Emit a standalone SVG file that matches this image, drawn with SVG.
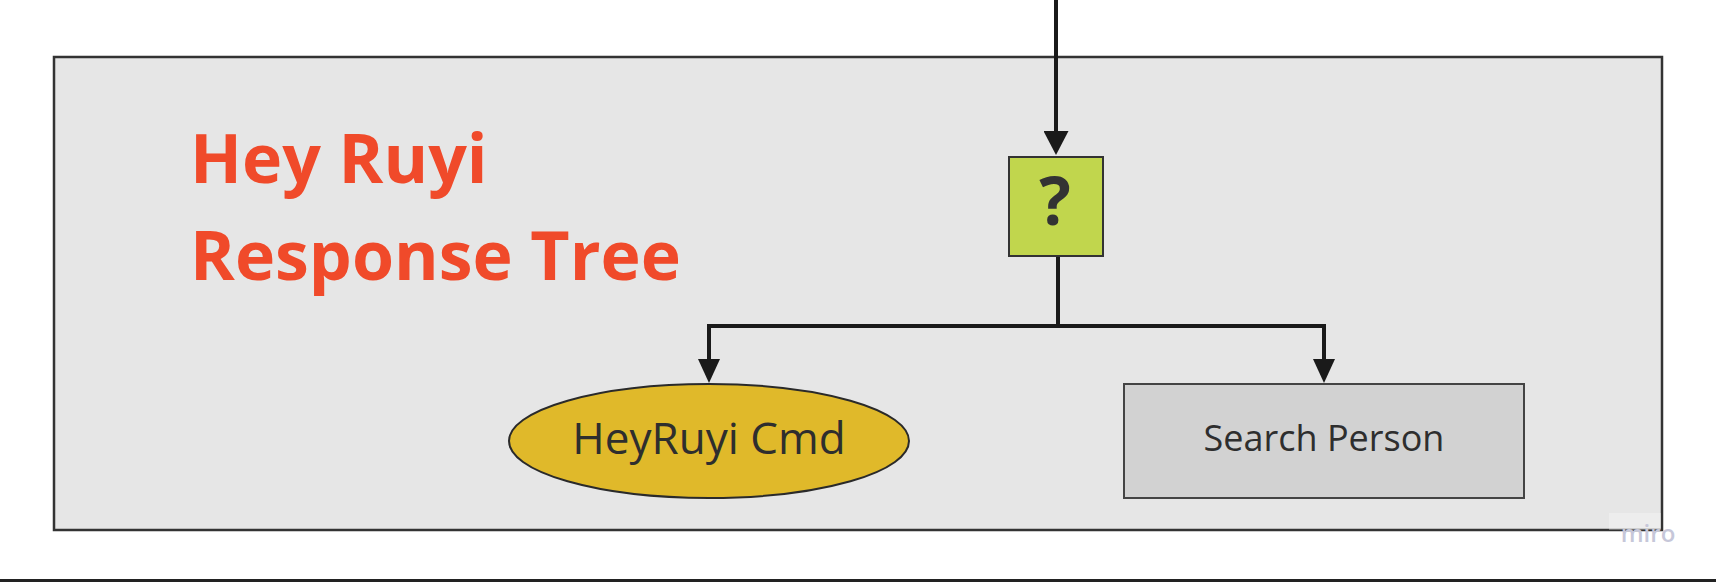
<svg xmlns="http://www.w3.org/2000/svg" width="1716" height="582" viewBox="0 0 1716 582">
  <style>
    .conn { fill: none; stroke: #1a1a1a; stroke-width: 4; stroke-linejoin: miter; }
    .label { font-family: "Open Sans", "Noto Sans", sans-serif; fill: #2e2e2e; text-anchor: middle; }
    .title { font-family: "Open Sans", "Noto Sans", sans-serif; font-weight: 700; fill: #f04a2a; font-size: 68px; }
  </style>
  <defs>
    <marker id="arrowL" markerUnits="userSpaceOnUse" viewBox="0 0 24 25" markerWidth="24" markerHeight="25" refX="14" refY="12.5" orient="auto">
      <path d="M0,0 L24,12.5 L0,25 z" fill="#1a1a1a"/>
    </marker>
    <marker id="arrowS" markerUnits="userSpaceOnUse" viewBox="0 0 24 22" markerWidth="24" markerHeight="22" refX="14" refY="11" orient="auto">
      <path d="M0,0 L24,11 L0,22 z" fill="#1a1a1a"/>
    </marker>
  </defs>
  <rect x="0" y="0" width="1716" height="582" fill="#ffffff"/>

  <g id="container">
    <rect x="54" y="57" width="1608" height="473" fill="#e6e6e6" stroke="#333333" stroke-width="2.5"/>
  </g>

  <g id="title">
    <text class="title" x="190" y="183">Hey Ruyi</text>
    <text class="title" x="190" y="280">Response Tree</text>
  </g>

  <g id="connectors">
    <path class="conn" d="M1056,0 V145" marker-end="url(#arrowL)"/>
    <path class="conn" d="M1058,256 V326 H709 V373" marker-end="url(#arrowS)"/>
    <path class="conn" d="M1058,326 H1324 V373" marker-end="url(#arrowS)"/>
  </g>

  <g id="node-selector">
    <rect x="1009" y="157" width="94" height="99" fill="#c1d64d" stroke="#333333" stroke-width="2"/>
    <text x="1055" y="225" font-family="Open Sans, Noto Sans, sans-serif" font-weight="700" font-size="66" fill="#333333" text-anchor="middle">?</text>
  </g>

  <g id="node-heyruyi-cmd">
    <ellipse cx="709" cy="441" rx="200" ry="57" fill="#e0b92a" stroke="#2a2a2a" stroke-width="2"/>
    <text class="label" x="709" y="454" font-size="44">HeyRuyi Cmd</text>
  </g>

  <g id="node-search-person">
    <rect x="1124" y="384" width="400" height="114" fill="#d2d2d2" stroke="#444444" stroke-width="2"/>
    <text class="label" x="1324" y="451" font-size="36">Search Person</text>
  </g>

  <g id="watermark">
    <rect x="1609" y="513" width="52" height="17" fill="#ffffff" fill-opacity="0.3"/>
    <text x="1648" y="542" font-family="Open Sans, Noto Sans, sans-serif" font-weight="600" font-size="24" fill="#c6c7d9" text-anchor="middle">miro</text>
  </g>

  <rect x="0" y="579" width="1716" height="3" fill="#222222"/>
</svg>
